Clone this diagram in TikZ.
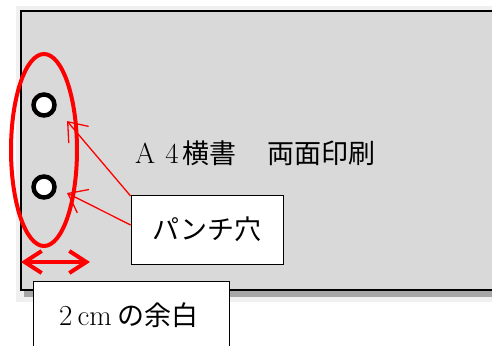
\documentclass[tikz,border=0pt]{standalone}
\usepackage{fontspec}
\newfontfamily\cjk{Noto Sans CJK JP}
\usetikzlibrary{arrows.meta}
\newcommand{\latbig}{\fontsize{29}{32}\selectfont}
\begin{document}
\begin{tikzpicture}[x=1pt,y=-1pt,
  paper/.style={fill=black!15,draw=black,line width=1.5pt},
  label box/.style={draw=black,fill=white,line width=0.8pt,inner sep=0pt},
  hole/.style={circle,draw=black,fill=white,line width=4.5pt,minimum size=21pt,inner sep=0pt},
  redarrow/.style={draw=red,line width=1.3pt,-{Straight Barb[length=17pt,width=26pt,line width=1.3pt]}},
  bigtext/.style={font=\cjk\fontsize{27}{30}\selectfont}]
\useasboundingbox (0,0) rectangle (492,345);
% glow and shadow
\fill[black!6] (16,6) rectangle (495,302);
\fill[black!35] (24,290) rectangle (495,297);
% paper
\draw[paper] (21,11) rectangle (500,290);
% main text
\node[bigtext,anchor=base west,inner sep=0pt] (title) at (135,163) {{\latbig\rmfamily A\hspace{10pt}4}\hspace{4pt}横書\hspace{31pt}両面印刷};
% holes
\node[hole] (h1) at (44,105) {};
\node[hole] (h2) at (44,187) {};
% red ellipse
\draw[red,line width=4pt] (44,150) ellipse [x radius=33pt,y radius=96pt];
% punch box
\node[label box,minimum width=152pt,minimum height=69pt,bigtext] (punch) at (207,229.5) {パンチ穴};
\coordinate (t1) at (67,121);
\coordinate (t2) at (67,193);
\draw[redarrow] (punch.west |- 0,196) -- (t1);
\draw[redarrow] (punch.west |- 0,225) -- (t2);
% margin arrow
\coordinate (m1) at (21,262);
\coordinate (m2) at (90,262);
\draw[red,line width=4pt,{Straight Barb[length=17pt,width=22pt,line width=4pt]}-{Straight Barb[length=17pt,width=22pt,line width=4pt]}] (m1) -- (m2);
% margin box
\draw[black,line width=0.8pt,fill=white] (33,360) -- (33,281) -- (229,281) -- (229,360);
\node[bigtext,anchor=base west,inner sep=0pt] (margin) at (59,325) {{\latbig\rmfamily 2\hspace{5pt}cm}\hspace{6pt}の余白};
\end{tikzpicture}
\end{document}
